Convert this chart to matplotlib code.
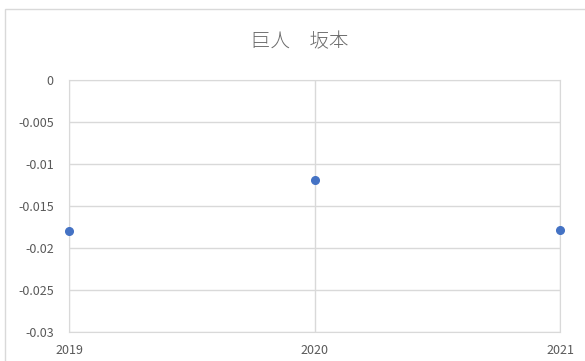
import matplotlib.pyplot as plt
from matplotlib.patches import Rectangle

plt.rcParams['font.family'] = ['Noto Sans CJK JP', 'DejaVu Sans']

years = [2019, 2020, 2021]
values = [-0.0180, -0.0119, -0.0179]
yticks = [0, -0.005, -0.01, -0.015, -0.02, -0.025, -0.03]
ylabels = ["0", "-0.005", "-0.01", "-0.015", "-0.02", "-0.025", "-0.03"]
title = "巨人　坂本"

fig = plt.figure(figsize=(5.85, 3.61), dpi=100)
ax = fig.add_axes([69/585, 29/361, 491/585, 252/361])

# outer chart border (cropped at right/bottom)
fig.patches.append(Rectangle((5/585, -0.1), 1.0, (361 - 9)/361 + 0.1,
                             transform=fig.transFigure, fill=False,
                             edgecolor='#d9d9d9', linewidth=1.0))

ax.plot(years, values, linestyle='none', marker='o', markersize=5.5,
        color='#4472C4', clip_on=False, zorder=3)

ax.set_xlim(2019, 2021)
ax.set_ylim(-0.03, 0)
ax.set_xticks(years)
ax.set_xticklabels([str(y) for y in years])
ax.set_yticks(yticks)
ax.set_yticklabels(ylabels)
ax.grid(True, color='#d9d9d9', linewidth=1.0)
for s in ax.spines.values():
    s.set_color('#d9d9d9')
ax.tick_params(length=0, labelsize=9, colors='#595959')
ax.tick_params(axis='x', pad=9)
ax.tick_params(axis='y', pad=11)

fig.text(300/585, 1 - 42/361, title, ha='center', va='center',
         fontsize=14, color='#6b6b6b', fontweight='light')

fig.savefig('out.png', dpi=100)
